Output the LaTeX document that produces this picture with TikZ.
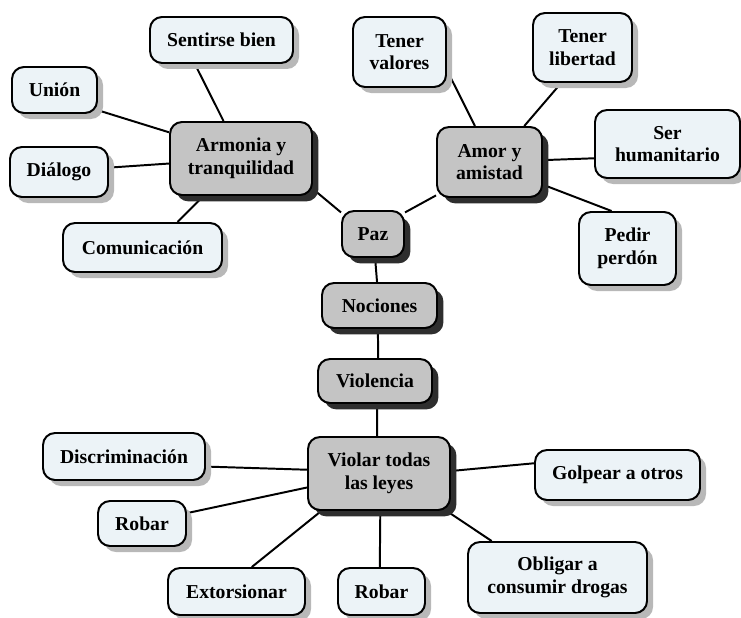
\documentclass[tikz,border=0pt]{standalone}
\usepackage{fontspec}
\setmainfont{Liberation Serif}
\usetikzlibrary{shadows,backgrounds}

\begin{document}
\begin{tikzpicture}[x=0.025cm, y=-0.025cm, line cap=round, line join=round]
  \definecolor{hubgray}{RGB}{196,196,196}
  \definecolor{leafblue}{RGB}{236,243,247}

  \tikzset{
    box/.style={draw, line width=1.4pt, rounded corners=0.3cm, align=center,
      inner sep=0pt, font=\bfseries\fontsize{14}{16}\selectfont},
    boxsize/.style 2 args={minimum width=#1*0.025cm, minimum height=#2*0.025cm},
    hub/.style={box, fill=hubgray,
      drop shadow={shadow xshift=0.16cm, shadow yshift=-0.16cm, fill=black!82, opacity=1}},
    leaf/.style={box, fill=leafblue,
      drop shadow={shadow xshift=0.15cm, shadow yshift=-0.15cm, fill=black!28, opacity=1}},
    link/.style={draw, line width=1.4pt}
  }

  \useasboundingbox (0,0) rectangle (741,617);

  % centre column
  \node[hub, boxsize={62}{46}]   (paz)       at (373,234)   {Paz};
  \node[hub, boxsize={115}{45}]  (nociones)  at (379.5,305.5) {Nociones};
  \node[hub, boxsize={114}{44}]  (violencia) at (375,381)   {Violencia};
  \node[hub, boxsize={142}{73}]  (violar)    at (379,473.5) {Violar todas\\las leyes};

  % Armonia y tranquilidad
  \node[hub, boxsize={142}{73}]  (armonia)   at (241,158.5) {Armonia y\\tranquilidad};
  \node[leaf, boxsize={143}{46}] (sentirse)  at (221.5,40)  {Sentirse bien};
  \node[leaf, boxsize={85}{46}]  (union)     at (54.5,90)   {Unión};
  \node[leaf, boxsize={98}{50}]  (dialogo)   at (59,172)    {Diálogo};
  \node[leaf, boxsize={159}{49}] (comunic)   at (142.5,247.5) {Comunicación};

  % Amor y amistad
  \node[hub, boxsize={105}{70}]  (amor)      at (489.5,162) {Amor y\\amistad};
  \node[leaf, boxsize={93}{70}]  (valores)   at (399.5,52)  {Tener\\valores};
  \node[leaf, boxsize={99}{69}]  (libertad)  at (582.5,47.5) {Tener\\libertad};
  \node[leaf, boxsize={145}{68}] (ser)       at (667.5,144) {Ser\\humanitario};
  \node[leaf, boxsize={97}{73}]  (pedir)     at (627.5,248.5) {Pedir\\perdón};

  % Violar todas las leyes
  \node[leaf, boxsize={162}{47}] (discrim)   at (124,456.5) {Discriminación};
  \node[leaf, boxsize={88}{45}]  (robarL)    at (142,523.5) {Robar};
  \node[leaf, boxsize={137}{47}] (extors)    at (236.5,591.5) {Extorsionar};
  \node[leaf, boxsize={87}{47}]  (robarB)    at (381.5,591.5) {Robar};
  \node[leaf, boxsize={165}{50}] (golpear)   at (617.5,475) {Golpear a otros};
  \node[leaf, boxsize={179}{71}] (obligar)   at (557.5,577.5) {Obligar a\\consumir drogas};

  \begin{scope}[on background layer]
    % left branch
    \path[link] (sentirse.-138) -- (armonia.115);
    \path[link] (union.-25)     -- (armonia.160);
    \path[link] (dialogo.5)     -- (armonia.184);
    \path[link] (comunic.36)    -- (armonia.-135);
    \path[link] (armonia.-23)   -- (paz.146);

    % right branch
    \path[link] (valores.-21)   -- (amor.112);
    \path[link] (libertad.-121) -- (amor.46);
    \path[link] (amor.2)        -- (ser.191);
    \path[link] (amor.-23)      -- (pedir.113);
    \path[link] (amor.-148)     -- (paz.34);

    % centre column
    \path[link] (paz.-85)       -- (nociones.96);
    \path[link] (nociones.-94)  -- (violencia.82);
    \path[link] (violencia.-85) -- (violar.93);

    % bottom branch
    \path[link] (discrim.-7)    -- (violar.177);
    \path[link] (robarL.13)     -- (violar.-169);
    \path[link] (extors.58)     -- (violar.-147);
    \path[link] (robarB.94)     -- (violar.-88);
    \path[link] (golpear.172)   -- (violar.2);
    \path[link] (obligar.151)   -- (violar.-29);
  \end{scope}
\end{tikzpicture}
\end{document}
